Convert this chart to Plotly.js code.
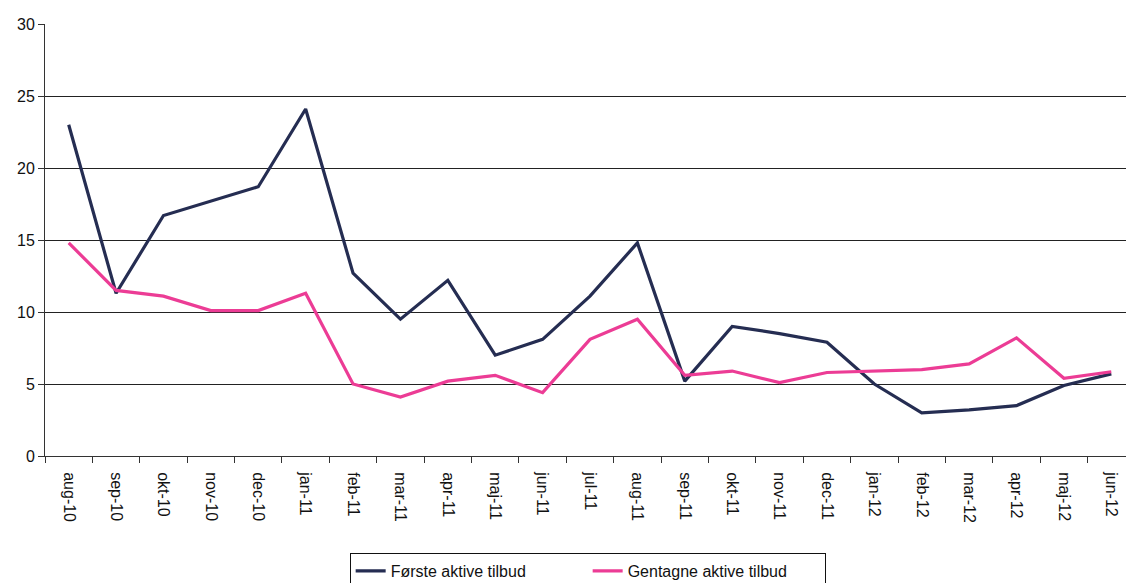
<!DOCTYPE html>
<html>
<head>
<meta charset="utf-8">
<script src="https://cdn.plot.ly/plotly-3.0.1.min.js"></script>
<style>html,body{margin:0;padding:0;background:#fff;}#chart{width:1126px;height:583px;}</style>
</head>
<body>
<div id="chart"></div>
<script>
const months = ["aug-10","sep-10","okt-10","nov-10","dec-10","jan-11","feb-11","mar-11","apr-11","maj-11","jun-11","jul-11","aug-11","sep-11","okt-11","nov-11","dec-11","jan-12","feb-12","mar-12","apr-12","maj-12","jun-12"];
const forste = [23.0,11.3,16.7,17.7,18.7,24.1,12.7,9.5,12.2,7.0,8.1,11.1,14.8,5.2,9.0,8.5,7.9,5.0,3.0,3.2,3.5,4.9,5.7];
const gentagne = [14.8,11.5,11.1,10.1,10.1,11.3,5.0,4.1,5.2,5.6,4.4,8.1,9.5,5.6,5.9,5.1,5.8,5.9,6.0,6.4,8.2,5.4,5.85];
const seriesNames = ["Første aktive tilbud","Gentagne aktive tilbud"];

const traces = [
  {x: months, y: forste, name: seriesNames[0], type: "scatter", mode: "lines",
   line: {color: "#252d52", width: 3.2}},
  {x: months, y: gentagne, name: seriesNames[1], type: "scatter", mode: "lines",
   line: {color: "#ec3c95", width: 3.2}}
];

const layout = {
  width: 1126, height: 583,
  margin: {l: 45, r: 0, t: 24, b: 127, autoexpand: false},
  paper_bgcolor: "#fff", plot_bgcolor: "#fff",
  font: {family: "Liberation Sans, Arial, sans-serif", size: 16, color: "#111"},
  showlegend: true,
  legend: {orientation: "h", x: 0.502, xanchor: "center", y: -0.2245, yanchor: "top",
           bordercolor: "#111", borderwidth: 1, font: {size: 16, color: "#111"},
           entrywidth: 192, entrywidthmode: "pixels", tracegroupgap: 0},
  xaxis: {type: "category", tickangle: 90, tickson: "boundaries", ticks: "outside", ticklen: 6,
          tickcolor: "#333", showline: true, linecolor: "#333", linewidth: 1,
          showgrid: false, zeroline: false, tickfont: {size: 16, color: "#111"},
          ticklabelstandoff: 12, range: [-0.5, 22.31], automargin: false},
  yaxis: {range: [0, 30], dtick: 5, ticks: "outside", ticklen: 6, tickcolor: "#333",
          showline: true, linecolor: "#333", linewidth: 1,
          showgrid: true, gridcolor: "#222", gridwidth: 1, zeroline: false,
          tickfont: {size: 16, color: "#111"}, automargin: false}
};

Plotly.newPlot("chart", traces, layout, {displayModeBar: false, staticPlot: true});
</script>
</body>
</html>
